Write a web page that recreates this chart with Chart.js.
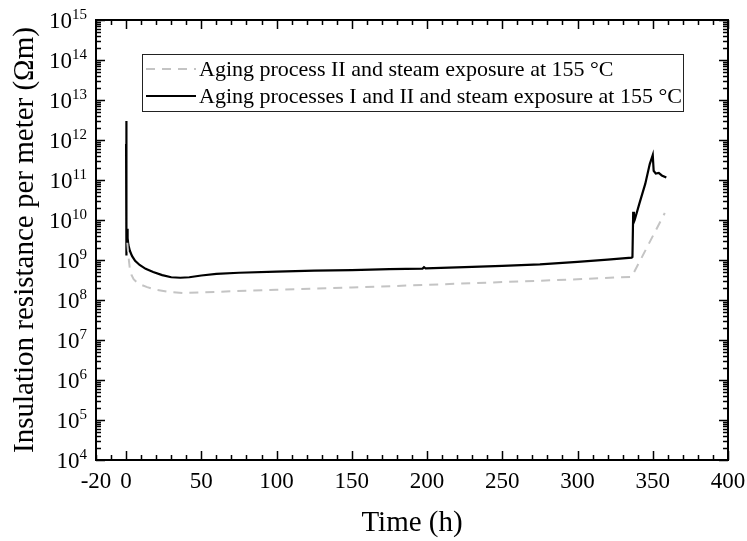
<!DOCTYPE html>
<html>
<head>
<meta charset="utf-8">
<script src="https://cdn.jsdelivr.net/npm/chart.js@4"></script>
<style>
  body { margin: 0; background: #fff; }
  #wrap { width: 747px; height: 541px; position: relative; }
</style>
</head>
<body>
<div id="wrap"><canvas id="myChart"></canvas></div>
<script>
// time (h) and resistance per meter (Ωm) for the two test runs
var tempoPreto = [0, 0.05, 0.1, 0.15, 0.2, 0.3, 0.5, 0.7, 1, 1.5, 2.5, 4, 6, 9, 13, 18, 24, 30, 36, 42, 50, 60, 75, 100, 125, 150, 175, 197, 198, 199, 225, 250, 275, 300, 320, 336, 336.5, 337, 337.5, 338, 341, 345, 348, 350, 350.6, 352, 354, 356, 359]
var resistPreto = [8e11, 3e12, 1.5e12, 9e11, 1e11, 1.3e9, 1.5e9, 6e9, 3.5e9, 2.4e9, 1.7e9, 1.25e9, 9.5e8, 7.5e8, 6e8, 5e8, 4.2e8, 3.7e8, 3.6e8, 3.7e8, 4.1e8, 4.5e8, 4.8e8, 5.1e8, 5.4e8, 5.6e8, 5.9e8, 6.1e8, 6.6e8, 6.2e8, 6.6e8, 7.1e8, 7.8e8, 9e8, 1.02e9, 1.15e9, 1.19e9, 1.6e10, 9e9, 1e10, 2.5e10, 8e10, 2.5e11, 4.2e11, 1.7e11, 1.45e11, 1.5e11, 1.3e11, 1.15e11]

var tempoCinza = [0.8, 1.5, 2.5, 3.5, 5, 7, 10, 14, 20, 28, 38, 60, 100, 150, 200, 250, 300, 336, 358]
var resistCinza = [2.7e9, 1.3e9, 6e8, 4.3e8, 3.3e8, 2.8e8, 2.4e8, 2.1e8, 1.8e8, 1.6e8, 1.5e8, 1.6e8, 1.8e8, 2.05e8, 2.4e8, 2.8e8, 3.3e8, 3.8e8, 1.5e10]

var legendas = ['Aging process II and steam exposure at 155 °C', 'Aging processes I and II and steam exposure at 155 °C']

var ticksX = [-20, 0, 50, 100, 150, 200, 250, 300, 350, 400]
var expoentesY = [4, 5, 6, 7, 8, 9, 10, 11, 12, 13, 14, 15]

var fonte = 'Liberation Serif, Times New Roman, serif'

function pontos(xs, ys) {
    return xs.map((x, i) => ({ x: x, y: ys[i] }))
}

// frame, inward ticks, 10^n labels and boxed legend
var moldura = {
    id: 'moldura',
    afterDraw(chart) {
        var ctx = chart.ctx
        var a = chart.chartArea
        var sx = chart.scales.x
        var sy = chart.scales.y
        ctx.save()
        ctx.strokeStyle = '#000'
        ctx.lineWidth = 1.5

        ctx.beginPath()
        for (var v = -20; v <= 400; v += 10) {
            var px = Math.round(sx.getPixelForValue(v)) + 0.5
            var len = (v % 50 === 0) ? 9 : 5
            ctx.moveTo(px, a.bottom); ctx.lineTo(px, a.bottom - len)
            ctx.moveTo(px, a.top); ctx.lineTo(px, a.top + len)
        }
        for (var e = 4; e <= 15; e++) {
            for (var m = 1; m <= 9; m++) {
                if (e === 15 && m > 1) break
                var py = Math.round(sy.getPixelForValue(m * Math.pow(10, e))) + 0.5
                var l = (m === 1) ? 9 : 5
                ctx.moveTo(a.left, py); ctx.lineTo(a.left + l, py)
                ctx.moveTo(a.right, py); ctx.lineTo(a.right - l, py)
            }
        }
        ctx.stroke()

        ctx.lineWidth = 2
        ctx.strokeRect(a.left, a.top, a.right - a.left, a.bottom - a.top)

        // y tick labels with superscript exponents
        ctx.fillStyle = '#000'
        ctx.textAlign = 'left'
        ctx.textBaseline = 'alphabetic'
        expoentesY.forEach(function (e) {
            var py = sy.getPixelForValue(Math.pow(10, e))
            ctx.font = '15px ' + fonte
            var we = ctx.measureText(String(e)).width
            ctx.font = '23px ' + fonte
            var wb = ctx.measureText('10').width
            var right = 87
            ctx.fillText('10', right - we - wb, py + 8)
            ctx.font = '15px ' + fonte
            ctx.fillText(String(e), right - we, py - 1)
        })

        // legend
        var bx = 142, by = 54, bw = 541, bh = 57
        ctx.lineWidth = 1
        ctx.strokeStyle = '#222'
        ctx.strokeRect(bx + 0.5, by + 0.5, bw, bh)
        ctx.font = '22px ' + fonte
        ctx.textBaseline = 'middle'
        chart.data.datasets.forEach(function (ds, i) {
            var ly = by + 15 + i * 27
            ctx.save()
            ctx.strokeStyle = ds.borderColor
            ctx.lineWidth = ds.borderWidth
            ctx.setLineDash(ds.borderDash || [])
            ctx.beginPath()
            ctx.moveTo(bx + 4, ly); ctx.lineTo(bx + 54, ly)
            ctx.stroke()
            ctx.restore()
            ctx.fillText(ds.label, bx + 57, ly + 1)
        })
        ctx.restore()
    }
}

const ctx1 = document.getElementById('myChart').getContext('2d')

new Chart(ctx1, {
    type: 'line',
    data: {
        datasets: [{
            label: legendas[0],
            data: pontos(tempoCinza, resistCinza),
            borderColor: '#c4c4c4',
            borderWidth: 2,
            borderDash: [9, 7],
            pointRadius: 0,
            tension: 0
        }, {
            label: legendas[1],
            data: pontos(tempoPreto, resistPreto),
            borderColor: '#000',
            borderWidth: 2.2,
            pointRadius: 0,
            tension: 0
        }]
    },
    options: {
        responsive: true,
        maintainAspectRatio: false,
        animation: false,
        layout: { padding: { top: 20, right: 19, left: 0, bottom: 0 } },
        plugins: { legend: { display: false }, tooltip: { enabled: false } },
        scales: {
            x: {
                type: 'linear',
                min: -20,
                max: 400,
                afterBuildTicks: (s) => { s.ticks = ticksX.map(v => ({ value: v })) },
                afterFit: (s) => {
                    s.height = 81
                    s.paddingLeft = 0
                    s.paddingRight = 0
                },
                grid: { display: false, drawTicks: false },
                border: { display: false },
                ticks: {
                    color: '#000',
                    font: { family: fonte, size: 23 },
                    padding: 8,
                    maxRotation: 0,
                    autoSkip: false
                },
                title: {
                    display: true,
                    text: 'Time (h)',
                    color: '#000',
                    font: { family: fonte, size: 29 },
                    padding: { top: 0, bottom: 0 }
                }
            },
            y: {
                type: 'logarithmic',
                min: 1e4,
                max: 1e15,
                afterBuildTicks: (s) => { s.ticks = expoentesY.map(e => ({ value: Math.pow(10, e) })) },
                afterFit: (s) => { s.width = 96 },
                grid: { display: false, drawTicks: false },
                border: { display: false },
                ticks: { display: false },
                title: {
                    display: true,
                    text: 'Insulation resistance per meter (Ωm)',
                    color: '#000',
                    font: { family: fonte, size: 29 },
                    padding: { top: 8, bottom: 0 }
                }
            }
        }
    },
    plugins: [moldura]
})
</script>
</body>
</html>
